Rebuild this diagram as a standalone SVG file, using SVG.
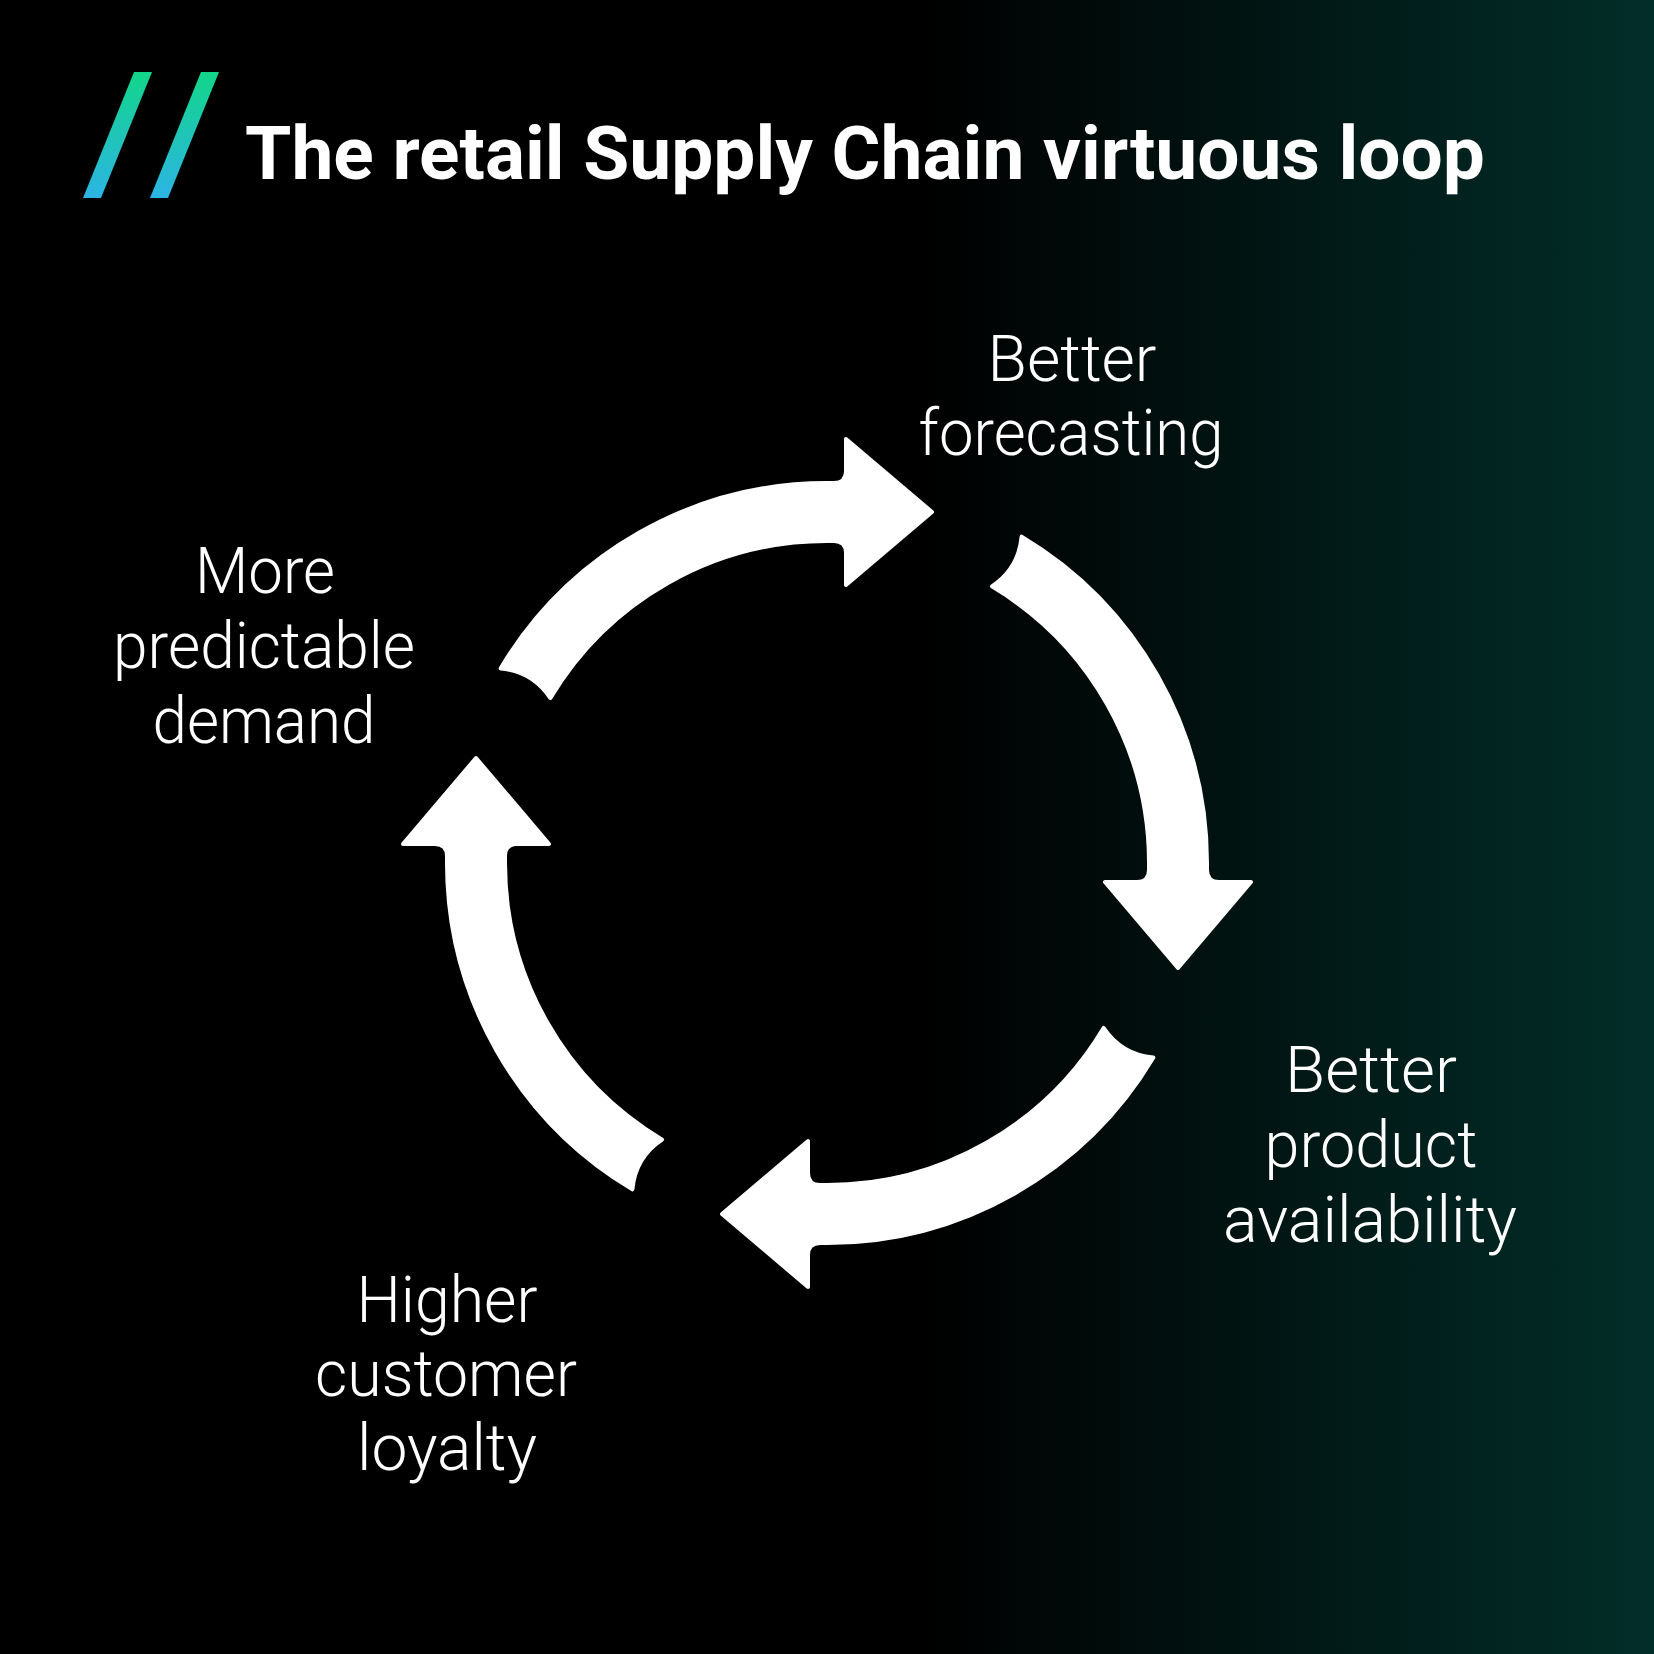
<svg xmlns="http://www.w3.org/2000/svg" width="1654" height="1654" viewBox="0 0 1654 1654">
  <defs>
    <linearGradient id="bg" x1="0" y1="0" x2="1654" y2="0" gradientUnits="userSpaceOnUse">
      <stop offset="0" stop-color="#000000"/>
      <stop offset="0.56" stop-color="#000000"/>
      <stop offset="1" stop-color="#022e29"/>
    </linearGradient>
    <linearGradient id="slash" x1="0" y1="72" x2="0" y2="198" gradientUnits="userSpaceOnUse">
      <stop offset="0" stop-color="#12d68a"/>
      <stop offset="1" stop-color="#2cb4e4"/>
    </linearGradient>
    <path id="arrow" d="M -326.4,-194.6 A 380 380 0 0 1 0,-380 L 7,-380 Q 19,-380 19,-392 L 19,-424 L 105,-351 L 19,-278 L 19,-310 Q 19,-322 7,-322 L 0,-322 A 322 322 0 0 0 -276.6,-164.9 Q -294.4,-191.7 -326.4,-194.6 Z"/>
  </defs>
  <style>
    .arrow { fill: #ffffff; stroke: #ffffff; stroke-width: 4; stroke-linejoin: round; }
    .title { font-family: Roboto, "Liberation Sans", sans-serif; font-weight: 700; font-size: 75px; fill: #ffffff; }
    .label { font-family: Roboto, "Liberation Sans", sans-serif; font-weight: 300; font-size: 65px; fill: #ffffff; text-anchor: middle; }
  </style>

  <rect x="0" y="0" width="1654" height="1654" fill="url(#bg)"/>

  <g id="logo">
    <polygon points="134,72 152,72 101,198 83,198" fill="url(#slash)"/>
    <polygon points="201,72 219,72 168,198 150,198" fill="url(#slash)"/>
  </g>
  <g id="title">
    <text class="title" x="245" y="179" textLength="1240" lengthAdjust="spacingAndGlyphs">The retail Supply Chain virtuous loop</text>
  </g>

  <g id="connectors">
    <use href="#arrow" class="arrow" transform="translate(827,863) rotate(0)"/>
    <use href="#arrow" class="arrow" transform="translate(827,863) rotate(90)"/>
    <use href="#arrow" class="arrow" transform="translate(827,863) rotate(180)"/>
    <use href="#arrow" class="arrow" transform="translate(827,863) rotate(270)"/>
  </g>

  <g id="node-forecasting">
    <text class="label" x="1072" y="381" textLength="169" lengthAdjust="spacingAndGlyphs">Better</text>
    <text class="label" x="1071" y="455" textLength="305" lengthAdjust="spacingAndGlyphs">forecasting</text>
  </g>
  <g id="node-availability">
    <text class="label" x="1371" y="1092" textLength="172" lengthAdjust="spacingAndGlyphs">Better</text>
    <text class="label" x="1371" y="1167" textLength="213" lengthAdjust="spacingAndGlyphs">product</text>
    <text class="label" x="1370" y="1242" textLength="294" lengthAdjust="spacingAndGlyphs">availability</text>
  </g>
  <g id="node-loyalty">
    <text class="label" x="447" y="1322" textLength="181" lengthAdjust="spacingAndGlyphs">Higher</text>
    <text class="label" x="446" y="1396" textLength="262" lengthAdjust="spacingAndGlyphs">customer</text>
    <text class="label" x="447" y="1470" textLength="180" lengthAdjust="spacingAndGlyphs">loyalty</text>
  </g>
  <g id="node-demand">
    <text class="label" x="265" y="593" textLength="140" lengthAdjust="spacingAndGlyphs">More</text>
    <text class="label" x="264" y="668" textLength="302" lengthAdjust="spacingAndGlyphs">predictable</text>
    <text class="label" x="264" y="743" textLength="223" lengthAdjust="spacingAndGlyphs">demand</text>
  </g>
</svg>
